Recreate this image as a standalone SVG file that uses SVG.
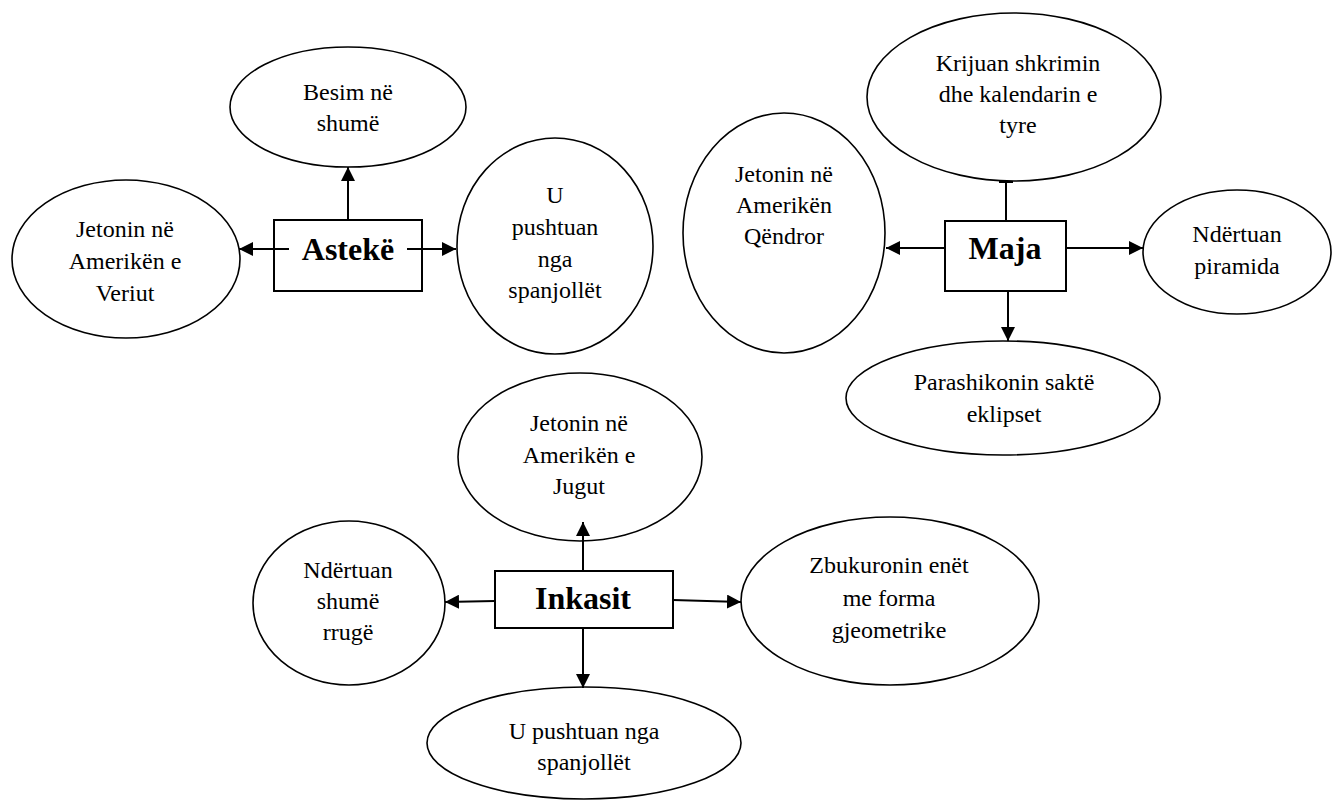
<svg xmlns="http://www.w3.org/2000/svg" width="1337" height="800" viewBox="0 0 1337 800" font-family="Liberation Serif, serif">
<style>
.node-ellipse{fill:#fff;stroke:#000;stroke-width:1.6}
.node-box{fill:#fff;stroke:#000;stroke-width:2}
.node-label{font-family:"Liberation Serif",serif;font-size:24px;font-weight:normal;fill:#000;text-anchor:middle}
.node-title{font-family:"Liberation Serif",serif;font-size:32px;font-weight:bold;fill:#000;text-anchor:middle}
.conn{stroke:#000;stroke-width:2;fill:none}
.conn-arrow{marker-end:url(#arr)}
</style>
<defs>
<marker id="arr" markerUnits="userSpaceOnUse" markerWidth="14" markerHeight="14" refX="14" refY="7" orient="auto" viewBox="0 0 14 14">
<path d="M0,0 L14,7 L0,14 z" fill="#000"/>
</marker>
</defs>
<rect width="1337" height="800" fill="#fff"/>
<g id="asteke">
<rect class="node-box" x="274" y="220" width="148" height="71"/>
<text class="node-title" x="348" y="260">Astekë</text>
</g>
<g id="asteke-veriut">
<ellipse class="node-ellipse" cx="126" cy="259" rx="114" ry="79"/>
<text class="node-label" x="125" y="237">Jetonin në</text>
<text class="node-label" x="125" y="269">Amerikën e</text>
<text class="node-label" x="125" y="301">Veriut</text>
</g>
<g id="asteke-besim">
<ellipse class="node-ellipse" cx="348" cy="107" rx="118" ry="60"/>
<text class="node-label" x="348" y="100">Besim në</text>
<text class="node-label" x="348" y="131">shumë</text>
</g>
<g id="asteke-pushtuan">
<ellipse class="node-ellipse" cx="555" cy="246" rx="98" ry="108"/>
<text class="node-label" x="555" y="203">U</text>
<text class="node-label" x="555" y="235">pushtuan</text>
<text class="node-label" x="555" y="267">nga</text>
<text class="node-label" x="555" y="298">spanjollët</text>
</g>
<g id="maja">
<rect class="node-box" x="945" y="221" width="121" height="70"/>
<text class="node-title" x="1005" y="259">Maja</text>
</g>
<g id="maja-shkrimin">
<ellipse class="node-ellipse" cx="1014" cy="97" rx="147" ry="84"/>
<text class="node-label" x="1018" y="71">Krijuan shkrimin</text>
<text class="node-label" x="1018" y="102">dhe kalendarin e</text>
<text class="node-label" x="1018" y="133">tyre</text>
</g>
<g id="maja-qendror">
<ellipse class="node-ellipse" cx="784" cy="233" rx="101" ry="120"/>
<text class="node-label" x="784" y="182">Jetonin në</text>
<text class="node-label" x="784" y="213">Amerikën</text>
<text class="node-label" x="784" y="244">Qëndror</text>
</g>
<g id="maja-piramida">
<ellipse class="node-ellipse" cx="1237" cy="252" rx="94" ry="62"/>
<text class="node-label" x="1237" y="242">Ndërtuan</text>
<text class="node-label" x="1237" y="274">piramida</text>
</g>
<g id="maja-eklipset">
<ellipse class="node-ellipse" cx="1003" cy="398" rx="157" ry="57"/>
<text class="node-label" x="1004" y="390">Parashikonin saktë</text>
<text class="node-label" x="1004" y="422">eklipset</text>
</g>
<g id="inkasit">
<rect class="node-box" x="495" y="571" width="178" height="57"/>
<text class="node-title" x="583" y="609">Inkasit</text>
</g>
<g id="inkasit-jugut">
<ellipse class="node-ellipse" cx="580" cy="457" rx="122" ry="84"/>
<text class="node-label" x="579" y="431">Jetonin në</text>
<text class="node-label" x="579" y="463">Amerikën e</text>
<text class="node-label" x="579" y="494">Jugut</text>
</g>
<g id="inkasit-rruge">
<ellipse class="node-ellipse" cx="349" cy="603" rx="96" ry="82"/>
<text class="node-label" x="348" y="578">Ndërtuan</text>
<text class="node-label" x="348" y="609">shumë</text>
<text class="node-label" x="348" y="640">rrugë</text>
</g>
<g id="inkasit-enet">
<ellipse class="node-ellipse" cx="890" cy="601" rx="149" ry="84"/>
<text class="node-label" x="889" y="573">Zbukuronin enët</text>
<text class="node-label" x="889" y="606">me forma</text>
<text class="node-label" x="889" y="638">gjeometrike</text>
</g>
<g id="inkasit-pushtuan">
<ellipse class="node-ellipse" cx="584" cy="743" rx="157" ry="56"/>
<text class="node-label" x="584" y="739">U pushtuan nga</text>
<text class="node-label" x="584" y="770">spanjollët</text>
</g>
<g id="connectors">
<line class="conn conn-arrow" x1="289" y1="249" x2="239" y2="249"/>
<line class="conn conn-arrow" x1="407" y1="249" x2="456" y2="249"/>
<line class="conn conn-arrow" x1="348" y1="220" x2="348" y2="167"/>
<line class="conn" x1="1006" y1="221" x2="1006" y2="182"/>
<line class="conn" x1="999" y1="182" x2="1013" y2="182"/>
<line class="conn conn-arrow" x1="945" y1="248" x2="886" y2="248"/>
<line class="conn conn-arrow" x1="1066" y1="248" x2="1143" y2="248"/>
<line class="conn conn-arrow" x1="1008" y1="291" x2="1008" y2="341"/>
<line class="conn conn-arrow" x1="583" y1="571" x2="583" y2="522"/>
<line class="conn conn-arrow" x1="495" y1="601" x2="445" y2="602"/>
<line class="conn conn-arrow" x1="673" y1="600" x2="741" y2="602"/>
<line class="conn conn-arrow" x1="583" y1="628" x2="583" y2="688"/>
</g>
</svg>
